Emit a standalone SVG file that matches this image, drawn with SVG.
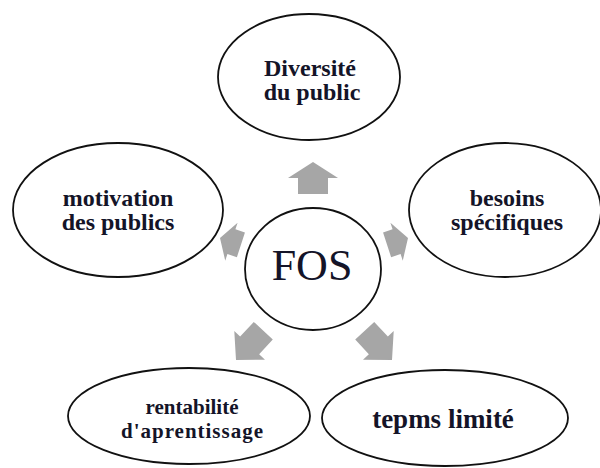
<svg xmlns="http://www.w3.org/2000/svg" width="600" height="468" viewBox="0 0 600 468">
<style>
.node ellipse{fill:#fff;stroke:#111;stroke-width:1.8}
.lbl{font-family:"Liberation Serif","Times New Roman",serif;font-weight:bold;font-size:24px;fill:#141428;text-anchor:middle}
.big{font-family:"Liberation Serif","Times New Roman",serif;font-size:44px;fill:#141428;text-anchor:middle}
.arr{fill:#a6a6a6}
</style>
<rect width="600" height="468" fill="#fff"/>
<g id="connectors">
<polygon class="arr" transform="translate(313,162) rotate(-90)" points="0,0 -16,-25 -16,-15 -32,-15 -32,15 -16,15 -16,25"/>
<polygon class="arr" transform="translate(408,238) rotate(-18)" points="0,0 -12,-20 -12,-13 -22,-13 -22,13 -12,13 -12,20"/>
<polygon class="arr" transform="translate(220,238) rotate(198)" points="0,0 -12,-20 -12,-13 -22,-13 -22,13 -12,13 -12,20"/>
<polygon class="arr" transform="translate(392,360) rotate(47)" points="0,0 -20,-21 -20,-13 -40,-13 -40,13 -20,13 -20,21"/>
<polygon class="arr" transform="translate(236,360) rotate(133)" points="0,0 -20,-21 -20,-13 -40,-13 -40,13 -20,13 -20,21"/>
</g>
<g id="fos" class="node">
<ellipse cx="313" cy="269" rx="68" ry="61"/>
<text class="big" x="312" y="280">FOS</text>
</g>
<g id="diversite" class="node">
<ellipse cx="309" cy="77" rx="91" ry="63"/>
<text class="lbl" x="310" y="76">Diversité</text>
<text class="lbl" x="312" y="100">du public</text>
</g>
<g id="motivation" class="node">
<ellipse cx="118" cy="210" rx="105" ry="67"/>
<text class="lbl" x="118" y="206">motivation</text>
<text class="lbl" x="118" y="230">des publics</text>
</g>
<g id="besoins" class="node">
<ellipse cx="505" cy="210" rx="96" ry="67"/>
<text class="lbl" x="507" y="206">besoins</text>
<text class="lbl" x="507" y="230">spécifiques</text>
</g>
<g id="rentabilite" class="node">
<ellipse cx="189" cy="416" rx="121" ry="48"/>
<text class="lbl" x="192" y="414" style="font-size:21px">rentabilité</text>
<text class="lbl" x="192" y="438" style="font-size:21px" textLength="142" lengthAdjust="spacing">d'aprentissage</text>
</g>
<g id="temps" class="node">
<ellipse cx="445" cy="418" rx="123" ry="48"/>
<text class="lbl" x="443" y="428" style="font-size:27px">tepms limité</text>
</g>
</svg>
